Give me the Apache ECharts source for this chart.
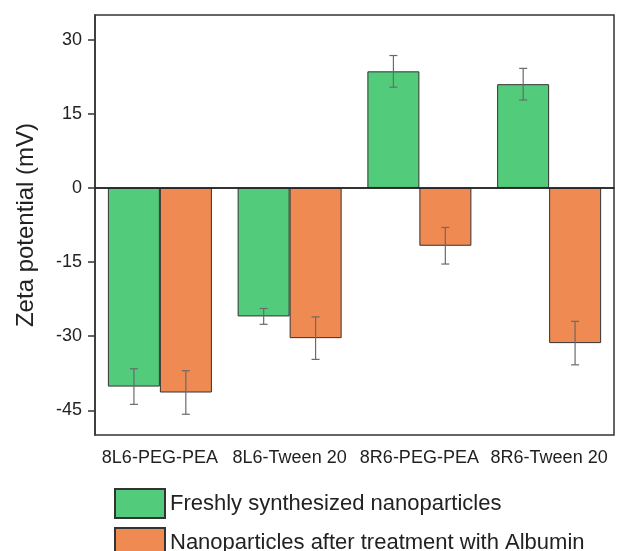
<!DOCTYPE html>
<html>
<head>
<meta charset="utf-8">
<script src="https://cdn.jsdelivr.net/npm/echarts@6/dist/echarts.min.js"></script>
<style>
  html, body { margin: 0; padding: 0; background: #fff; }
  #chart { width: 620px; height: 551px; }
</style>
</head>
<body>
<div id="chart"></div>
<script>
// categories and values
const categories = ['8L6-PEG-PEA', '8L6-Tween 20', '8R6-PEG-PEA', '8R6-Tween 20']
const freshValues = [-40.2, -26.0, 23.6, 21.0]
const freshErrors = [3.6, 1.6, 3.2, 3.2]
const albuminValues = [-41.4, -30.4, -11.7, -31.4]
const albuminErrors = [4.4, 4.3, 3.7, 4.4]
const yTicks = [-45, -30, -15, 0, 15, 30]
const seriesNames = ['Freshly synthesized nanoparticles', 'Nanoparticles after treatment with Albumin']

const colors = ['#52CB7A', '#EF8A53']
const font = 'Liberation Sans, Arial, sans-serif'

function errorData (values, errors) {
  return values.map(function (v, i) {
    return [i, v - errors[i], v + errors[i]]
  })
}

// draws one error bar, shifted left (-1) or right (+1) of the category centre
function errorRenderer (side) {
  return function (params, api) {
    const idx = api.value(0)
    const lo = api.coord([idx, api.value(1)])
    const hi = api.coord([idx, api.value(2)])
    const band = api.size([1, 0])[0]
    const x = lo[0] + side * band * 0.2
    const cap = 4
    const style = { stroke: '#6a6a6a', lineWidth: 1.2 }
    return {
      type: 'group',
      children: [
        { type: 'line', shape: { x1: x, y1: lo[1], x2: x, y2: hi[1] }, style: style },
        { type: 'line', shape: { x1: x - cap, y1: lo[1], x2: x + cap, y2: lo[1] }, style: style },
        { type: 'line', shape: { x1: x - cap, y1: hi[1], x2: x + cap, y2: hi[1] }, style: style }
      ]
    }
  }
}

// one legend per row so the second row may run off the bottom edge
function legendAt (top, name) {
  return {
    orient: 'vertical',
    left: 114,
    top: top,
    padding: 0,
    itemWidth: 50,
    itemHeight: 29,
    icon: 'rect',
    data: [name],
    textStyle: { fontSize: 22, color: '#222', fontFamily: font }
  }
}

let myChart = echarts.init(document.getElementById('chart'))
let option = {
  animation: false,
  color: colors,
  textStyle: { fontFamily: font },
  grid: {
    left: 95,
    right: 6,
    top: 15,
    bottom: 116,
    show: true,
    borderColor: '#333',
    borderWidth: 1.5
  },
  legend: [legendAt(488, seriesNames[0]), legendAt(527, seriesNames[1])],
  xAxis: {
    type: 'category',
    data: categories,
    axisLine: { lineStyle: { color: '#333', width: 1.5 } },
    axisTick: { alignWithLabel: true, length: 7, lineStyle: { color: '#333', width: 1.5 } },
    axisLabel: { fontSize: 18, color: '#222', margin: 14, interval: 0 }
  },
  yAxis: {
    type: 'value',
    min: -50,
    max: 35,
    name: 'Zeta potential (mV)',
    nameLocation: 'middle',
    nameGap: 57,
    nameTextStyle: { fontSize: 24, color: '#222' },
    splitLine: { show: false },
    axisLine: { show: true, lineStyle: { color: '#333', width: 1.5 } },
    axisTick: { show: true, length: 7, customValues: yTicks, lineStyle: { color: '#333', width: 1.5 } },
    axisLabel: { fontSize: 18, color: '#222', margin: 13, customValues: yTicks }
  },
  series: [
    {
      name: seriesNames[0],
      type: 'bar',
      data: freshValues,
      barWidth: 52,
      barGap: '0%',
      itemStyle: { color: colors[0], borderColor: '#333', borderWidth: 1 },
      markLine: {
        silent: true,
        symbol: 'none',
        label: { show: false },
        lineStyle: { color: '#222', type: 'solid', width: 1.5 },
        data: [{ yAxis: 0 }]
      }
    },
    {
      name: seriesNames[1],
      type: 'bar',
      data: albuminValues,
      barWidth: 52,
      barGap: '0%',
      itemStyle: { color: colors[1], borderColor: '#333', borderWidth: 1 }
    },
    {
      type: 'custom',
      renderItem: errorRenderer(-1),
      data: errorData(freshValues, freshErrors),
      encode: { x: 0, y: [1, 2] },
      z: 10
    },
    {
      type: 'custom',
      renderItem: errorRenderer(1),
      data: errorData(albuminValues, albuminErrors),
      encode: { x: 0, y: [1, 2] },
      z: 10
    }
  ]
}
option && myChart.setOption(option)
</script>
</body>
</html>
